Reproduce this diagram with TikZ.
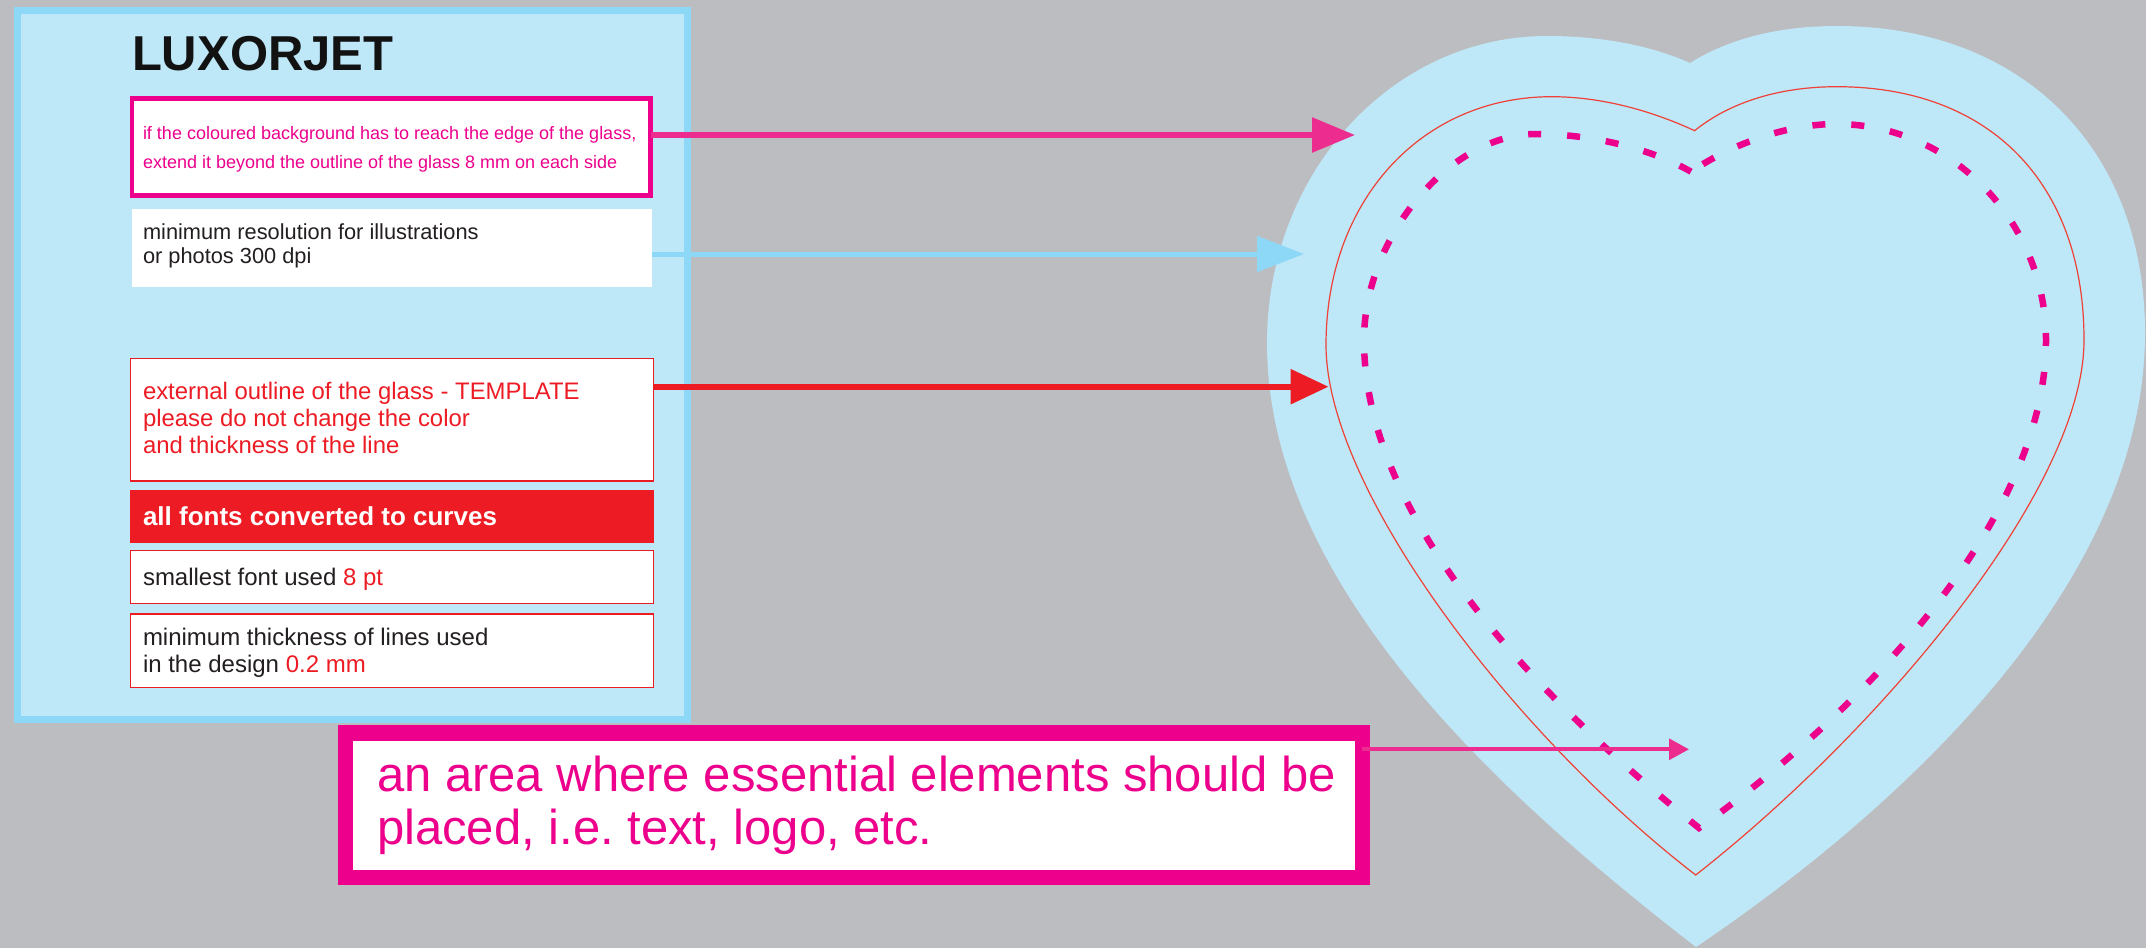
\documentclass[tikz,border=0pt]{standalone}
\usepackage{fontspec}
\setmainfont{Liberation Sans}
\usetikzlibrary{arrows.meta}
\definecolor{bgg}{HTML}{BCBDC0}
\definecolor{pfill}{HTML}{BEE7F8}
\definecolor{pbord}{HTML}{8ED8F7}
\definecolor{mag}{HTML}{EC008C}
\definecolor{pinkA}{HTML}{EC2D8F}
\definecolor{redC}{HTML}{ED1C24}
\definecolor{darkT}{HTML}{231F20}
\definecolor{outl}{HTML}{EF4136}
\newcommand{\fs}[1]{\fontsize{#1}{#1}\selectfont}
\frenchspacing
\begin{document}
\begin{tikzpicture}[x=1pt,y=-1pt,
  box/.style={rectangle, inner sep=0pt, outer sep=0pt, anchor=north west},
  txt/.style={inner sep=0pt, outer sep=0pt, anchor=base west},
  bigarrow/.style={-{Triangle[length=43pt,width=34pt]}},
]
\useasboundingbox (0,0) rectangle (2146,948);
\fill[bgg] (0,0) rectangle (2146,948);

% left panel
\node[box, draw=pbord, fill=pfill, line width=7pt, minimum width=669.5pt, minimum height=709pt] (panel) at (17.5,10.5) {};

% boxes
\node[box, draw=mag, fill=white, line width=4.5pt, minimum width=518.7pt, minimum height=97.2pt] (pinkbox) at (131.8,98.3) {};
\node[box, fill=white, minimum width=520.3pt, minimum height=78pt] (resbox) at (131.5,209.3) {};
\node[box, draw=redC, fill=white, line width=1.4pt, minimum width=523pt, minimum height=122.6pt] (extbox) at (130.2,358.4) {};
\node[box, fill=redC, minimum width=524pt, minimum height=52.7pt] (fontsbox) at (130,490) {};
\node[box, draw=redC, fill=white, line width=1.4pt, minimum width=523pt, minimum height=52.6pt] (smallbox) at (130.2,550.7) {};
\node[box, draw=redC, fill=white, line width=1.4pt, minimum width=523pt, minimum height=73.6pt] (thickbox) at (130.2,614) {};
\node[box, draw=mag, fill=white, line width=15.5pt, minimum width=1017.2pt, minimum height=144.8pt] (areabox) at (345.25,732.8) {};

% heart: outer light blue area
\fill[pfill] (1690,63) .. controls (1650,45) and (1600,36) .. (1547,36)
  .. controls (1392,36) and (1267,173) .. (1267,343)
  .. controls (1267,583) and (1498,794) .. (1696,947)
  .. controls (1903,807) and (2145,583) .. (2145,333)
  .. controls (2145,149) and (2023,26) .. (1837,26)
  .. controls (1780,26) and (1730,38) .. (1690,63) -- cycle;

% red outline of the glass
\draw[outl, line width=1.2pt, line join=miter] (1694.6,130.7) .. controls (1650,110) and (1600,96.7) .. (1551.7,96.7)
  .. controls (1421,96.7) and (1326,201) .. (1326,345)
  .. controls (1326,490) and (1514,735) .. (1695.7,875)
  .. controls (1877,733) and (2084,490) .. (2084,340)
  .. controls (2084,183) and (1990,86.7) .. (1836.7,86.7)
  .. controls (1780,86.7) and (1730,102) .. (1694.6,130.7) -- cycle;

% dashed safe area
\draw[mag, line width=6.5pt, dash pattern=on 13pt off 26pt] (1691,171.7) .. controls (1650,148) and (1590,134) .. (1536,134)
  .. controls (1450,134) and (1364,237) .. (1364,340)
  .. controls (1364,540) and (1582,733.5) .. (1699,828)
  .. controls (1822,741) and (2046,540) .. (2046,340)
  .. controls (2046,221) and (1951,124) .. (1836,124)
  .. controls (1790,124) and (1735,142) .. (1691,171.7) -- cycle;

% texts
\node[txt, text=black!93] (title) at (132,70.7) {\fs{49}\bfseries LUXORJET};
\node[txt, text=mag] (p1) at (143,139) {\fs{18}if the coloured background has to reach the edge of the glass,};
\node[txt, text=mag] (p2) at (143,168) {\fs{18}extend it beyond the outline of the glass 8 mm on each side};
\node[txt, text=darkT] (r1) at (143,239) {\fs{21.8}minimum resolution for illustrations};
\node[txt, text=darkT] (r2) at (143,263.3) {\fs{21.8}or photos 300 dpi};
\node[txt, text=redC] (e1) at (143,399.5) {\fs{23.9}external outline of the glass - TEMPLATE};
\node[txt, text=redC] (e2) at (143,426.7) {\fs{23.9}please do not change the color};
\node[txt, text=redC] (e3) at (143,453.3) {\fs{23.9}and thickness of the line};
\node[txt, text=white] (f1) at (143,525.7) {\fs{26}\bfseries all fonts converted to curves};
\node[txt, text=darkT] (s1) at (143,585) {\fs{24}smallest font used \textcolor{redC}{8 pt}};
\node[txt, text=darkT] (t1) at (143,645) {\fs{24}minimum thickness of lines used};
\node[txt, text=darkT] (t2) at (143,672.3) {\fs{24}in the design \textcolor{redC}{0.2 mm}};
\node[txt, text=mag] (a1) at (377,791.7) {\fs{49}an area where essential elements should be};
\node[txt, text=mag] (a2) at (377,844) {\fs{49}placed, i.e. text, logo, etc.};

% arrow targets
\coordinate (tipA) at (1355,135);
\coordinate (tipB) at (1304,254);
\coordinate (tipC) at (1328.5,386.7);
\coordinate (tipD) at (1689,749.3);

% arrows
\draw[pinkA, line width=5.7pt, bigarrow] (pinkbox.east |- tipA) -- (tipA);
\draw[pbord, line width=5pt, -{Triangle[length=47pt,width=35pt]}] (resbox.east |- tipB) -- (tipB);
\draw[redC, line width=6pt, -{Triangle[length=38pt,width=34pt]}] (extbox.east |- tipC) -- (tipC);
\draw[pinkA, line width=4pt, -{Triangle[length=20pt,width=20.7pt]}] (areabox.east |- tipD) -- (tipD);
\end{tikzpicture}
\end{document}
